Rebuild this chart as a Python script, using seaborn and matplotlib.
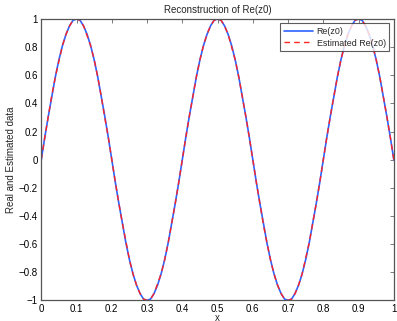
import matplotlib
matplotlib.use("Agg")
import matplotlib.pyplot as plt
import seaborn as sns
import numpy as np
import pandas as pd

x_vals = [
    0.00, 0.01, 0.02, 0.03, 0.04, 0.05, 0.06, 0.07, 0.08, 0.09,
    0.10, 0.11, 0.12, 0.13, 0.14, 0.15, 0.16, 0.17, 0.18, 0.19,
    0.20, 0.21, 0.22, 0.23, 0.24, 0.25, 0.26, 0.27, 0.28, 0.29,
    0.30, 0.31, 0.32, 0.33, 0.34, 0.35, 0.36, 0.37, 0.38, 0.39,
    0.40, 0.41, 0.42, 0.43, 0.44, 0.45, 0.46, 0.47, 0.48, 0.49,
    0.50, 0.51, 0.52, 0.53, 0.54, 0.55, 0.56, 0.57, 0.58, 0.59,
    0.60, 0.61, 0.62, 0.63, 0.64, 0.65, 0.66, 0.67, 0.68, 0.69,
    0.70, 0.71, 0.72, 0.73, 0.74, 0.75, 0.76, 0.77, 0.78, 0.79,
    0.80, 0.81, 0.82, 0.83, 0.84, 0.85, 0.86, 0.87, 0.88, 0.89,
    0.90, 0.91, 0.92, 0.93, 0.94, 0.95, 0.96, 0.97, 0.98, 0.99,
    1.00,
]

re_z0 = [
    0.00, 0.16, 0.31, 0.45, 0.59, 0.71, 0.81, 0.89, 0.95, 0.99,
    1.00, 0.99, 0.95, 0.89, 0.81, 0.71, 0.59, 0.45, 0.31, 0.16,
    0.00, -0.16, -0.31, -0.45, -0.59, -0.71, -0.81, -0.89, -0.95, -0.99,
    -1.00, -0.99, -0.95, -0.89, -0.81, -0.71, -0.59, -0.45, -0.31, -0.16,
    0.00, 0.16, 0.31, 0.45, 0.59, 0.71, 0.81, 0.89, 0.95, 0.99,
    1.00, 0.99, 0.95, 0.89, 0.81, 0.71, 0.59, 0.45, 0.31, 0.16,
    0.00, -0.16, -0.31, -0.45, -0.59, -0.71, -0.81, -0.89, -0.95, -0.99,
    -1.00, -0.99, -0.95, -0.89, -0.81, -0.71, -0.59, -0.45, -0.31, -0.16,
    0.00, 0.16, 0.31, 0.45, 0.59, 0.71, 0.81, 0.89, 0.95, 0.99,
    1.00, 0.99, 0.95, 0.89, 0.81, 0.71, 0.59, 0.45, 0.31, 0.16,
    0.00,
]

est_re_z0 = [
    0.00, 0.16, 0.31, 0.46, 0.59, 0.70, 0.81, 0.89, 0.95, 0.99,
    1.00, 0.99, 0.95, 0.88, 0.81, 0.71, 0.59, 0.45, 0.30, 0.16,
    0.00, -0.16, -0.31, -0.45, -0.58, -0.71, -0.81, -0.89, -0.95, -0.99,
    -1.00, -0.99, -0.95, -0.88, -0.81, -0.71, -0.59, -0.45, -0.31, -0.16,
    0.00, 0.16, 0.31, 0.45, 0.59, 0.71, 0.81, 0.89, 0.95, 0.99,
    1.00, 0.99, 0.95, 0.89, 0.80, 0.71, 0.59, 0.45, 0.31, 0.16,
    0.00, -0.16, -0.31, -0.46, -0.59, -0.71, -0.81, -0.89, -0.95, -0.99,
    -1.00, -0.99, -0.95, -0.89, -0.81, -0.70, -0.59, -0.45, -0.31, -0.16,
    0.00, 0.16, 0.31, 0.45, 0.59, 0.71, 0.81, 0.89, 0.95, 0.99,
    1.00, 0.99, 0.95, 0.89, 0.81, 0.71, 0.59, 0.45, 0.31, 0.16,
    0.00,
]

x_ticks = [0, 0.1, 0.2, 0.3, 0.4, 0.5, 0.6, 0.7, 0.8, 0.9, 1]
x_tick_labels = ["0", "0.1", "0.2", "0.3", "0.4", "0.5", "0.6", "0.7", "0.8", "0.9", "1"]
y_ticks = [-1, -0.8, -0.6, -0.4, -0.2, 0, 0.2, 0.4, 0.6, 0.8, 1]
y_tick_labels = ["\u22121", "\u22120.8", "\u22120.6", "\u22120.4", "\u22120.2", "0",
                 "0.2", "0.4", "0.6", "0.8", "1"]

sns.set_style("white")
plt.rcParams["font.family"] = ["Liberation Sans", "DejaVu Sans"]

fig = plt.figure(figsize=(3.97, 3.21), dpi=100)
ax = fig.add_axes([0.104, 0.064, 0.888, 0.877])

df = pd.DataFrame({"x": x_vals, "re": re_z0, "est": est_re_z0})
sns.lineplot(data=df, x="x", y="re", ax=ax, color="#2f62ff", lw=1.2, label="Re(z0)")
sns.lineplot(data=df, x="x", y="est", ax=ax, color="#ff2424", lw=1.0,
             linestyle=(0, (4, 3)), label="Estimated Re(z0)")

ax.set_xlim(0, 1)
ax.set_ylim(-1, 1)
ax.set_xticks(x_ticks)
ax.set_xticklabels(x_tick_labels)
ax.set_yticks(y_ticks)
ax.set_yticklabels(y_tick_labels)
ax.tick_params(direction="in", length=3, width=0.6, labelsize=7, top=True, right=True,
               colors="#666666", labelcolor="black", pad=2.5)
for s in ax.spines.values():
    s.set_color("#555555")
    s.set_linewidth(0.9)
    s.set_visible(True)

ax.set_title("Reconstruction of Re(z0)", fontsize=7, pad=4)
ax.set_xlabel("x", fontsize=7, labelpad=-1)
ax.set_ylabel("Real and Estimated data", fontsize=7, labelpad=2)

leg = ax.legend(loc="upper right", fontsize=6.4, frameon=True, fancybox=False,
                borderaxespad=0.5, handlelength=3.3, borderpad=0.4, labelspacing=0.3,
                handletextpad=0.4)
leg.get_frame().set_edgecolor("#333333")
leg.get_frame().set_linewidth(0.8)

fig.savefig("out.png", dpi=100)
